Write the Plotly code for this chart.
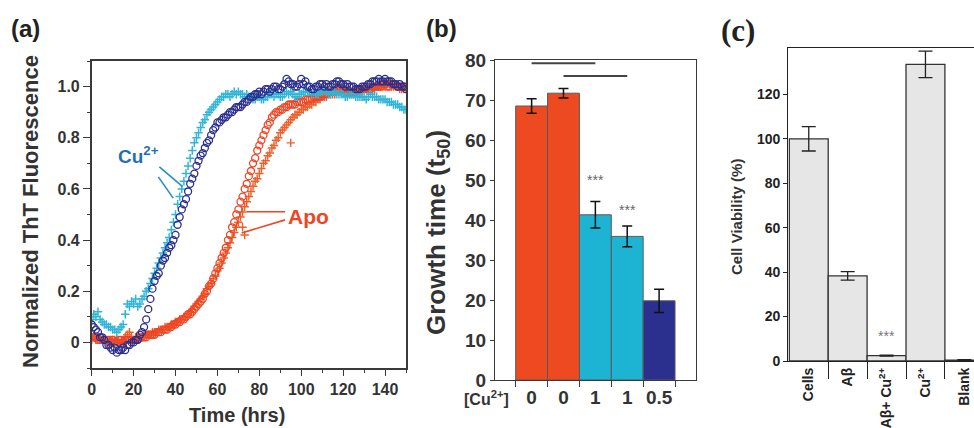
import plotly.graph_objects as go

# ---------------- Panel (a): ThT kinetics (hourly readings) ----------------
time_hrs = list(range(0, 151))

cu_circles = [0.07, 0.06, 0.05, 0.04, 0.02, 0.02, 0.01, -0.01, -0.01, -0.02,
              -0.03, -0.02, -0.04, -0.03, -0.03, -0.02, -0.03, -0.01, -0.01, 0.00,
              0.00, 0.01, 0.01, 0.03, 0.04, 0.06, 0.09, 0.13, 0.17, 0.21,
              0.24, 0.26, 0.27, 0.30, 0.32, 0.33, 0.35, 0.37, 0.38, 0.40,
              0.42, 0.46, 0.49, 0.52, 0.54, 0.56, 0.59, 0.62, 0.64, 0.66,
              0.69, 0.71, 0.73, 0.74, 0.76, 0.78, 0.79, 0.81, 0.83, 0.84,
              0.86, 0.86, 0.87, 0.88, 0.88, 0.89, 0.90, 0.90, 0.91, 0.92,
              0.92, 0.92, 0.93, 0.94, 0.94, 0.95, 0.96, 0.96, 0.97, 0.97,
              0.98, 0.97, 0.98, 0.99, 0.99, 0.98, 0.99, 1.00, 1.00, 0.99,
              0.99, 1.00, 1.01, 1.03, 1.02, 1.01, 1.01, 1.00, 1.00, 1.01,
              1.03, 1.01, 1.02, 1.00, 1.00, 0.99, 0.99, 1.00, 1.00, 1.01,
              1.01, 1.00, 1.01, 1.00, 1.00, 1.01, 1.01, 1.02, 1.02, 1.01,
              1.01, 1.00, 1.01, 1.00, 1.00, 1.00, 0.99, 0.99, 0.99, 1.00,
              1.00, 1.00, 1.01, 1.01, 1.02, 1.02, 1.02, 1.03, 1.02, 1.02,
              1.03, 1.02, 1.02, 1.02, 1.01, 1.01, 1.00, 1.01, 1.00, 1.00, 0.99]

cu_crosses = [0.09, 0.11, 0.10, 0.12, 0.09, 0.08, 0.07, 0.07, 0.06, 0.06,
              0.05, 0.05, 0.04, 0.05, 0.06, 0.07, 0.11, 0.15, 0.14, 0.16,
              0.15, 0.17, 0.14, 0.15, 0.17, 0.18, 0.20, 0.21, 0.23, 0.25,
              0.27, 0.29, 0.31, 0.33, 0.35, 0.37, 0.39, 0.41, 0.44, 0.47,
              0.50, 0.54, 0.57, 0.60, 0.63, 0.66, 0.69, 0.72, 0.75, 0.78,
              0.80, 0.82, 0.84, 0.86, 0.87, 0.89, 0.90, 0.91, 0.92, 0.93,
              0.94, 0.95, 0.96, 0.96, 0.97, 0.97, 0.96, 0.97, 0.98, 0.97,
              0.98, 0.97, 0.97, 0.96, 0.97, 0.96, 0.96, 0.95, 0.95, 0.96,
              0.96, 0.95, 0.95, 0.96, 0.96, 0.97, 0.97, 0.96, 0.97, 0.97,
              0.96, 0.96, 0.97, 0.98, 0.97, 0.98, 0.97, 0.96, 0.96, 0.97,
              0.97, 0.98, 0.98, 0.98, 0.98, 0.97, 0.98, 0.97, 0.97, 0.98,
              0.98, 0.99, 0.98, 0.97, 0.97, 0.98, 0.98, 0.97, 0.97, 0.97,
              0.97, 0.96, 0.96, 0.97, 0.97, 0.97, 0.96, 0.96, 0.96, 0.96,
              0.96, 0.95, 0.96, 0.97, 0.96, 0.96, 0.96, 0.95, 0.95, 0.95,
              0.95, 0.94, 0.94, 0.94, 0.93, 0.93, 0.93, 0.92, 0.92, 0.91, 0.91]

apo_circles = [0.02, 0.02, 0.02, 0.01, 0.01, 0.01, 0.01, 0.01, 0.01, 0.00,
               0.01, 0.00, 0.00, 0.01, 0.01, 0.00, 0.01, 0.01, 0.01, 0.01,
               0.01, 0.01, 0.01, 0.02, 0.02, 0.02, 0.02, 0.03, 0.03, 0.03,
               0.03, 0.04, 0.04, 0.04, 0.05, 0.05, 0.05, 0.06, 0.06, 0.07,
               0.07, 0.08, 0.08, 0.09, 0.09, 0.10, 0.11, 0.11, 0.12, 0.13,
               0.14, 0.15, 0.16, 0.17, 0.19, 0.20, 0.22, 0.23, 0.25, 0.27,
               0.29, 0.31, 0.33, 0.35, 0.37, 0.40, 0.42, 0.45, 0.47, 0.50,
               0.52, 0.55, 0.57, 0.60, 0.62, 0.65, 0.67, 0.70, 0.72, 0.75,
               0.77, 0.79, 0.81, 0.83, 0.85, 0.86, 0.88, 0.89, 0.90, 0.90,
               0.91, 0.91, 0.92, 0.92, 0.93, 0.93, 0.93, 0.93, 0.94, 0.94,
               0.94, 0.94, 0.95, 0.95, 0.95, 0.95, 0.96, 0.96, 0.96, 0.96,
               0.97, 0.97, 0.97, 0.98, 0.98, 0.98, 0.98, 0.99, 0.99, 0.99,
               0.99, 0.98, 0.98, 0.98, 0.98, 0.98, 0.98, 0.99, 0.99, 0.99,
               0.99, 0.99, 0.99, 0.99, 1.00, 1.00, 1.00, 1.00, 1.00, 1.01,
               1.01, 1.00, 1.00, 1.01, 1.01, 1.01, 1.00, 1.00, 1.00, 1.00, 1.00]

apo_crosses = [0.01, 0.02, 0.01, 0.02, 0.02, 0.01, 0.01, 0.00, 0.00, 0.01,
               0.01, 0.01, 0.01, 0.00, 0.00, 0.01, 0.02, 0.03, 0.04, 0.02,
               0.01, 0.02, 0.02, 0.02, 0.02, 0.03, 0.03, 0.03, 0.03, 0.04,
               0.04, 0.04, 0.05, 0.05, 0.05, 0.06, 0.06, 0.06, 0.07, 0.07,
               0.08, 0.08, 0.09, 0.09, 0.10, 0.10, 0.11, 0.12, 0.13, 0.14,
               0.15, 0.16, 0.17, 0.18, 0.19, 0.21, 0.22, 0.23, 0.25, 0.26,
               0.28, 0.29, 0.31, 0.33, 0.35, 0.37, 0.39, 0.41, 0.43, 0.45,
               0.47, 0.49, 0.51, 0.53, 0.55, 0.57, 0.59, 0.61, 0.63, 0.64,
               0.66, 0.68, 0.70, 0.71, 0.73, 0.74, 0.76, 0.77, 0.79, 0.80,
               0.82, 0.83, 0.84, 0.85, 0.86, 0.87, 0.88, 0.89, 0.89, 0.90,
               0.91, 0.91, 0.92, 0.92, 0.93, 0.93, 0.94, 0.94, 0.95, 0.95,
               0.96, 0.96, 0.96, 0.97, 0.97, 0.97, 0.97, 0.98, 0.98, 0.98,
               0.98, 0.98, 0.98, 0.97, 0.97, 0.97, 0.98, 0.98, 0.98, 0.98,
               0.99, 0.99, 0.99, 0.99, 0.99, 0.99, 1.00, 1.00, 1.00, 1.00,
               1.00, 1.01, 1.01, 1.00, 1.00, 1.00, 1.00, 0.99, 0.99, 0.99, 0.99]

apo_stray_t = [72, 73, 95]
apo_stray_v = [0.45, 0.42, 0.78]

a_xticks = [0, 20, 40, 60, 80, 100, 120, 140]
a_yticks = [0, 0.2, 0.4, 0.6, 0.8, 1.0]
a_yticktext = ["0", "0.2", "0.4", "0.6", "0.8", "1.0"]

# ---------------- Panel (b): growth time ----------------
b_pos = [0, 1, 2, 3, 4]
b_labels = ["0", "0", "1", "1", "0.5"]
b_values = [68.5, 71.7, 41.3, 35.9, 19.8]
b_errors = [1.8, 1.2, 3.3, 2.6, 2.9]
b_colors = ["#EE4A21", "#EE4A21", "#1DB3D3", "#1DB3D3", "#2B2F8E"]

# ---------------- Panel (c): cell viability ----------------
c_pos = [0, 1, 2, 3, 4]
c_labels = ["Cells", "Aβ", "Aβ+ Cu<sup>2+</sup>", "Cu<sup>2+</sup>", "Blank"]
c_values = [100, 38.3, 2.4, 133.5, 0.4]
c_errors = [5.5, 1.9, 0.2, 6.0, 0.2]

NAVY = "#2B2E8C"
CYAN = "#30B5D8"
RED = "#EF4524"
ORANGE = "#E8612C"
FONT = "Liberation Sans, Arial, sans-serif"
AX = "#3a3a3a"

W, H = 974, 428
def px(x):
    return x / W
def py(y):
    return 1 - y / H

fig = go.Figure()

fig.add_trace(go.Scatter(x=time_hrs, y=apo_crosses, mode="markers", xaxis="x", yaxis="y",
                         marker=dict(symbol="cross-thin-open", size=6, color=ORANGE,
                                     line=dict(width=1.5, color=ORANGE))))
fig.add_trace(go.Scatter(x=apo_stray_t, y=apo_stray_v, mode="markers", xaxis="x", yaxis="y",
                         marker=dict(symbol="cross-thin-open", size=6, color=ORANGE,
                                     line=dict(width=1.4, color=ORANGE))))
fig.add_trace(go.Scatter(x=time_hrs, y=apo_circles, mode="markers", xaxis="x", yaxis="y",
                         marker=dict(symbol="circle-open", size=7, color=RED,
                                     line=dict(width=1.3, color=RED))))
fig.add_trace(go.Scatter(x=time_hrs, y=cu_crosses, mode="markers", xaxis="x", yaxis="y",
                         marker=dict(symbol="cross-thin-open", size=6, color=CYAN,
                                     line=dict(width=1.5, color=CYAN))))
fig.add_trace(go.Scatter(x=time_hrs, y=cu_circles, mode="markers", xaxis="x", yaxis="y",
                         marker=dict(symbol="circle-open", size=7, color=NAVY,
                                     line=dict(width=1.3, color=NAVY))))

fig.add_trace(go.Bar(x=b_pos, y=b_values, width=1, xaxis="x2", yaxis="y2",
                     marker=dict(color=b_colors, line=dict(color="#5a5a5a", width=1)),
                     error_y=dict(type="data", array=b_errors, color="#111", thickness=1.5, width=5)))

fig.add_trace(go.Bar(x=c_pos, y=c_values, width=1, xaxis="x3", yaxis="y3",
                     marker=dict(color="#E6E6E6", line=dict(color="#333", width=1.3)),
                     error_y=dict(type="data", array=c_errors, color="#222", thickness=1.3, width=7)))

tickfont_a = dict(family=FONT, size=16, color="#333", weight="bold")

fig.update_layout(
    width=W, height=H, margin=dict(l=0, r=0, t=0, b=0, autoexpand=False),
    paper_bgcolor="white", plot_bgcolor="white", showlegend=False,
    xaxis=dict(domain=[px(91.7), px(406)], anchor="y", range=[0, 150], automargin=False,
               tickmode="array", tickvals=a_xticks, ticks="outside", ticklen=6, tickwidth=1.3,
               tickcolor=AX, showline=True, linecolor=AX, linewidth=1.5, mirror=True,
               showgrid=False, zeroline=False, tickfont=tickfont_a,
               minor=dict(ticks="outside", dtick=10, tick0=0, ticklen=3, tickcolor=AX)),
    yaxis=dict(domain=[py(368), py(61)], anchor="x", range=[-0.1, 1.1], automargin=False,
               tickmode="array", tickvals=a_yticks, ticktext=a_yticktext, ticks="outside",
               ticklen=7, tickwidth=1.3, tickcolor=AX, showline=True, linecolor=AX,
               linewidth=1.5, mirror=True, showgrid=False, zeroline=False, tickfont=tickfont_a,
               minor=dict(ticks="outside", dtick=0.1, tick0=0, ticklen=3, tickcolor=AX)),
    xaxis2=dict(domain=[px(495), px(696)], anchor="y2", range=[-1.149, 5.158], automargin=False,
                tickmode="array", tickvals=b_pos, ticktext=b_labels, ticks="",
                showline=True, linecolor=AX, linewidth=1.3, mirror=True, showgrid=False,
                zeroline=False, tickfont=dict(family=FONT, size=19, color="#333", weight="bold"),
                minor=dict(ticks="outside", tickmode="array",
                           tickvals=[-0.5, 0.5, 1.5, 2.5, 3.5, 4.5], ticklen=6, tickcolor=AX,
                           tickwidth=1.3)),
    yaxis2=dict(domain=[py(380), py(60)], anchor="x2", range=[0, 80], dtick=10, automargin=False,
                ticks="outside", ticklen=4, tickcolor=AX, showline=True, linecolor=AX,
                linewidth=1.3, mirror=True, showgrid=False, zeroline=False,
                tickfont=dict(family=FONT, size=19, color="#333", weight="bold")),
    xaxis3=dict(domain=[px(788.3), 1.0], anchor="y3", range=[-0.526, 4.248], automargin=False,
                tickmode="array", tickvals=c_pos, ticktext=c_labels, ticks="", tickangle=-90,
                showline=True, linecolor="#222", linewidth=1.3, mirror=True, showgrid=False,
                zeroline=False, tickfont=dict(family=FONT, size=14, color="#222", weight="bold"),
                minor=dict(ticks="outside", tickmode="array", tickvals=[0.5, 1.5, 2.5, 3.5],
                           ticklen=17, tickcolor="#222", tickwidth=1.2)),
    yaxis3=dict(domain=[py(361), py(47.7)], anchor="x3", range=[0, 141], automargin=False,
                tickmode="array", tickvals=[0, 20, 40, 60, 80, 100, 120], ticks="outside",
                ticklen=4, tickcolor="#222", showline=True, linecolor="#222", linewidth=1.3,
                showgrid=False, zeroline=False,
                tickfont=dict(family=FONT, size=14, color="#222", weight="bold")),
)

ann = []
def A(text, x, y, size, color="#222", family=FONT, angle=0, xref="paper", yref="paper", bold=True):
    ann.append(dict(text=text, x=x, y=y, xref=xref, yref=yref, showarrow=False,
                    textangle=angle, xanchor="center", yanchor="middle",
                    font=dict(family=family, size=size, color=color,
                              weight="bold" if bold else "normal")))

A("(a)", px(25), py(28), 24)
A("(b)", px(441), py(28), 24)
A("(c)", px(738), py(31), 31, family="Liberation Serif, Times New Roman, serif")
A("Normalized ThT Fluorescence", px(31), py(212), 22, color="#333", angle=-90)
A("Time (hrs)", px(237), py(415), 20, color="#333")
A("Growth time (t<sub>50</sub>)", px(437), py(233), 26, color="#333", angle=-90)
A("[Cu<sup>2+</sup>]", px(486), py(398), 16, color="#333")
A("Cell Viability (%)", px(736), py(217), 15, color="#333", angle=-90)
A("Cu<sup>2+</sup>", 22.1, 0.732, 19, color="#1F6FB2", xref="x", yref="y")
A("Apo", 103.3, 0.491, 21, color=RED, xref="x", yref="y")
A("***", 2, 50, 14, color="#666", xref="x2", yref="y2", bold=False)
A("***", 3, 42.5, 14, color="#666", xref="x2", yref="y2", bold=False)
A("***", 2, 11.2, 14, color="#777", xref="x3", yref="y3", bold=False)

shapes = []
def L(x0, y0, x1, y1, color, width, xref, yref):
    shapes.append(dict(type="line", x0=x0, y0=y0, x1=x1, y1=y1, xref=xref, yref=yref,
                       line=dict(color=color, width=width)))

L(32.3, 0.686, 43.4, 0.609, "#2A8CC4", 1.6, "x", "y")
L(31.8, 0.647, 38.9, 0.564, "#2A8CC4", 1.6, "x", "y")
L(92.3, 0.511, 74.0, 0.511, RED, 1.6, "x", "y")
L(92.3, 0.479, 71.6, 0.428, RED, 1.6, "x", "y")
L(0, 79.2, 2, 79.2, "#444", 2, "x2", "y2")
L(1, 76, 3, 76, "#444", 2, "x2", "y2")

fig.update_layout(annotations=ann, shapes=shapes)
fig.write_html("out.html")
